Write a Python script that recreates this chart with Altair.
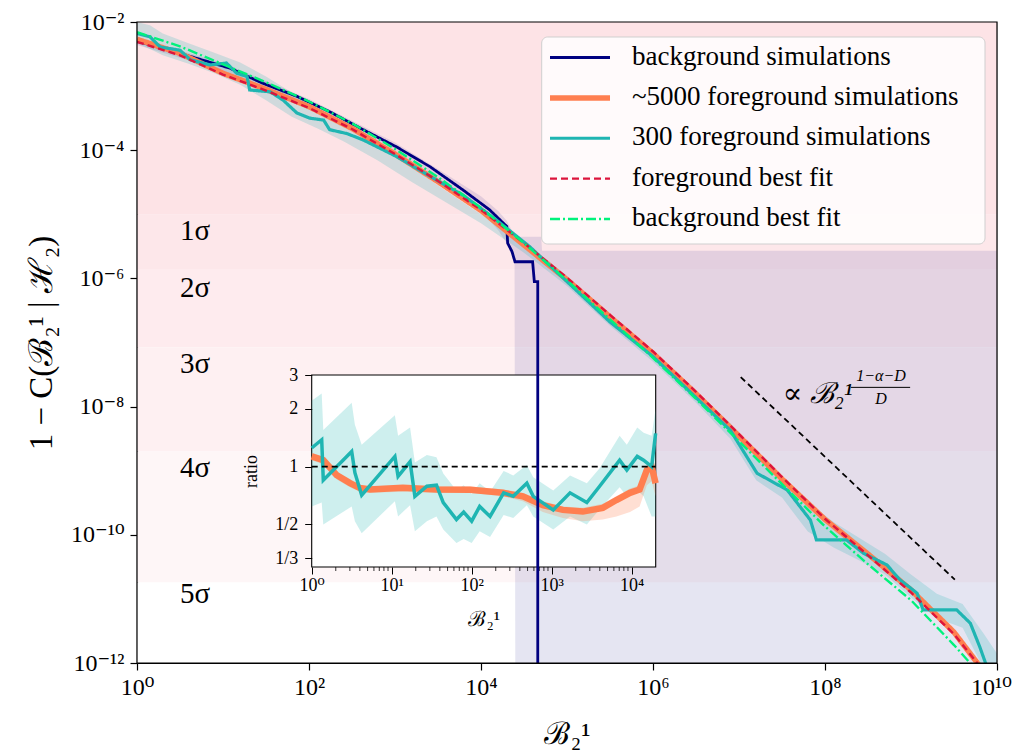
import altair as alt
import numpy as np
import pandas as pd

W, H = 860, 641
SERIF = "Liberation Serif, DejaVu Serif, serif"

# ---------------- legend / series styling ----------------
SERIES = ["background simulations", "~5000 foreground simulations",
          "300 foreground simulations", "foreground best fit", "background best fit"]
COLORS = ["#000080", "#ff7f50", "#1fb5b2", "#dc143c", "#00f27c"]
DASHES = [[1, 0], [1, 0], [1, 0], [7, 4], [10, 3, 2, 3]]
WIDTHS = [2.8, 5.5, 3.2, 2.4, 2.4]

# ---------------- main panel data (log10 values) ----------------
bg_lx = [0.0, 0.5, 1.08, 1.47, 1.86, 2.24, 2.63, 3.02, 3.41, 3.79, 4.10, 4.30, 4.31, 4.36, 4.395, 4.60, 4.62, 4.66, 4.66]
bg_ly = [-2.30, -2.49, -2.72, -2.96, -3.16, -3.40, -3.68, -3.95, -4.26, -4.62, -4.93, -5.19, -5.45, -5.58, -5.74, -5.74, -6.05, -6.05, -12.6]

fg_lx = [0, 0.5, 1, 1.5, 2, 2.5, 3, 3.5, 4, 4.5, 5, 5.5, 6, 6.5, 7, 7.5, 8, 8.5, 9, 9.5, 9.8]
fg_ly = [-2.27, -2.49, -2.80, -3.05, -3.32, -3.66, -4.06, -4.49, -4.94, -5.48, -6.02, -6.60, -7.17, -7.80, -8.46, -9.13, -9.76, -10.30, -10.86, -11.52, -12.05]

tl_lx = [0.0, 0.15, 0.27, 0.5, 0.62, 0.85, 1.04, 1.16, 1.28, 1.31, 1.55, 1.70, 1.86, 2.01, 2.17, 2.24, 2.44,
         2.63, 3.02, 3.41, 3.79, 4.18, 4.57, 5.0, 5.5, 6.0, 6.5, 6.9, 7.21, 7.56, 7.83, 7.90, 8.25, 8.45,
         8.72, 8.87, 9.07, 9.14, 9.53, 9.69, 9.80, 9.88]
tl_ly = [-2.18, -2.23, -2.39, -2.44, -2.59, -2.67, -2.64, -2.80, -2.85, -3.06, -3.09, -3.22, -3.42, -3.50,
         -3.53, -3.68, -3.74, -3.84, -4.10, -4.41, -4.70, -5.09, -5.51, -6.05, -6.68, -7.22, -7.86, -8.37,
         -9.04, -9.30, -9.77, -10.08, -10.08, -10.29, -10.47, -10.70, -10.91, -11.17, -11.17, -11.38, -11.75, -12.05]

ffit_lx = [0, 0.5, 1, 1.5, 2, 2.5, 3, 3.5, 4, 4.5, 5, 5.5, 6, 6.5, 7, 7.5, 8, 8.5, 9, 9.5, 9.8]
ffit_ly = [-2.31, -2.52, -2.82, -3.07, -3.34, -3.67, -4.06, -4.48, -4.93, -5.45, -5.99, -6.57, -7.14, -7.77,
           -8.43, -9.10, -9.75, -10.32, -10.90, -11.55, -12.05]

bfit_lx = [0, 0.5, 1, 1.5, 2, 2.5, 3, 3.5, 4, 4.5, 5, 5.5, 6, 6.5, 7, 7.5, 8, 8.5, 9, 9.5, 9.72]
bfit_ly = [-2.16, -2.38, -2.66, -2.94, -3.24, -3.58, -3.98, -4.42, -4.90, -5.45, -6.03, -6.64, -7.24, -7.88,
           -8.54, -9.21, -9.87, -10.46, -11.02, -11.72, -12.05]

# confidence bands (log10)
nb_lx = [0.0, 1.0, 2.0, 3.0, 3.6, 4.0, 4.2, 4.3, 4.39, 4.40, 4.70, 4.71, 10.0]
nb_hi = [-2.25, -2.64, -3.20, -3.88, -4.38, -4.72, -4.95, -5.10, -5.33, -5.35, -5.35, -5.57, -5.57]
nb_lo = [-2.36, -2.76, -3.36, -4.02, -4.58, -4.95, -5.25, -5.45, -5.75, -13.0, -13.0, -13.0, -13.0]

tb_lx = [0.0, 0.15, 0.3, 0.6, 0.9, 1.2, 1.5, 1.8, 2.1, 2.4, 2.8, 3.2, 3.6, 4.0, 4.5, 5.0, 5.5, 6.0, 6.5,
         6.9, 7.2, 7.5, 7.8, 8.1, 8.4, 8.7, 9.0, 9.3, 9.6, 9.85, 10.0]
tb_hi = [-2.00, -2.05, -2.18, -2.33, -2.48, -2.63, -2.85, -3.10, -3.36, -3.60, -3.92, -4.27, -4.64, -5.00,
         -5.42, -5.96, -6.58, -7.14, -7.76, -8.26, -8.70, -9.10, -9.50, -9.80, -10.05, -10.30, -10.62,
         -10.92, -11.08, -11.55, -11.85]
tb_lo = [-2.33, -2.42, -2.52, -2.65, -2.80, -2.98, -3.22, -3.48, -3.66, -3.86, -4.16, -4.50, -4.82, -5.14,
         -5.60, -6.12, -6.74, -7.30, -7.94, -8.50, -9.15, -9.42, -9.95, -10.20, -10.40, -10.62, -10.98,
         -11.30, -11.45, -12.10, -12.40]

# sigma bands
SIGMA_EDGES = [1e-2, 9.8e-6, 1.4e-6, 8.4e-8, 2.0e-9, 1.8e-11, 1e-12]
SIGMA_FILLS = ["#fde3e6", "#fde7ea", "#feebee", "#fef0f2", "#fef6f7", "#ffffff"]
SIGMA_LABELS = ["1σ", "2σ", "3σ", "4σ", "5σ"]
SIGMA_LABEL_LY = [-5.40, -6.29, -7.48, -9.10, -11.06]
SIGMA_LABEL_LX = 0.5

# power-law guide line and its label
ref_lx = [7.02, 9.51]
ref_ly = [-7.54, -10.70]
ann_main_lx, ann_main_ly, ann_main_txt = [7.51], [-7.80], ["∝ ℬ₂¹"]
ann_frac_lx, ann_frac_ly, ann_frac_txt = [8.651, 8.651], [-7.53, -7.875], ["1−α−D", "D"]
frac_lx = [8.30, 8.99]
frac_ly = [-7.70, -7.70]

# ---------------- inset data ----------------
io_lx = [0, 0.145, 0.31, 0.48, 0.60, 0.73, 1.14, 1.56, 1.98, 2.39, 2.64, 2.89, 3.14, 3.39, 3.64, 3.81, 3.98, 4.10, 4.19, 4.25, 4.30]
io_r = [1.13, 1.08, 0.905, 0.82, 0.775, 0.76, 0.775, 0.76, 0.757, 0.73, 0.70, 0.63, 0.595, 0.583, 0.61, 0.67, 0.73, 0.76, 0.96, 1.0, 0.82]
io_hi = [1.18, 1.12, 0.94, 0.85, 0.80, 0.79, 0.80, 0.79, 0.79, 0.76, 0.73, 0.66, 0.62, 0.61, 0.64, 0.70, 0.77, 0.80, 1.01, 1.06, 0.88]
io_lo = [1.08, 1.03, 0.86, 0.78, 0.74, 0.73, 0.74, 0.73, 0.73, 0.70, 0.66, 0.58, 0.54, 0.52, 0.53, 0.55, 0.58, 0.62, 0.80, 0.84, 0.70]

it_lx = [0, 0.125, 0.145, 0.50, 0.54, 0.625, 1.04, 1.08, 1.23, 1.29, 1.44, 1.56, 1.645, 1.81, 1.90, 2.0,
         2.10, 2.23, 2.40, 2.52, 2.69, 2.77, 3.02, 3.23, 3.44, 3.60, 3.85, 3.94, 4.07, 4.15, 4.25, 4.30]
it_r = [1.25, 1.38, 0.85, 1.2, 0.93, 0.71, 1.13, 0.89, 1.06, 0.70, 0.79, 0.80, 0.65, 0.53, 0.58, 0.52,
        0.62, 0.55, 0.73, 0.70, 0.82, 0.70, 0.595, 0.73, 0.65, 0.79, 1.08, 0.96, 1.13, 1.08, 1.0, 1.49]
it_hi = [2.2, 2.4, 1.55, 2.15, 1.65, 1.3, 1.85, 1.45, 1.6, 1.05, 1.15, 1.12, 0.92, 0.75, 0.8, 0.72,
         0.82, 0.74, 0.95, 0.9, 1.02, 0.88, 0.75, 0.9, 0.82, 0.98, 1.45, 1.3, 1.6, 1.5, 1.45, 2.0]
it_lo = [0.62, 0.65, 0.5, 0.62, 0.52, 0.45, 0.66, 0.55, 0.63, 0.46, 0.52, 0.55, 0.47, 0.40, 0.42, 0.40,
         0.46, 0.43, 0.56, 0.54, 0.63, 0.55, 0.47, 0.55, 0.50, 0.60, 0.78, 0.70, 0.75, 0.70, 0.55, 0.55]

INSET_MAJOR = [1, 10, 100, 1000, 10000]
INSET_MINOR = [m * d for d in [1, 10, 100, 1000] for m in range(2, 10)]
INSET_YTICKS = [1 / 3, 1 / 2, 1, 2, 3]


def p10(a):
    return 10.0 ** np.asarray(a, dtype=float)


SUP = str.maketrans("-0123456789", "⁻⁰¹²³⁴⁵⁶⁷⁸⁹")


def pow_label_expr(exps):
    e = "round(log(datum.value)/LN10)"
    expr = "''"
    for k in exps:
        expr = f"({e} == {k}) ? '10{str(k).translate(SUP)}' : " + expr
    return expr


# ---------------- scales ----------------
xs = alt.Scale(type="log", domain=[1, 1e10], nice=False)
ys = alt.Scale(type="log", domain=[1e-12, 1e-2], nice=False)
INS_X0, INS_X1, INS_Y0, INS_Y1 = 174.7, 518.7, 545, 353
ixs = alt.Scale(type="log", domain=[1, 2e4], nice=False, range=[INS_X0, INS_X1])
iys = alt.Scale(type="log", domain=[0.3, 3], nice=False, range=[INS_Y0, INS_Y1])

axis_common = dict(labelFont=SERIF, labelColor="black", tickColor="black", domainColor="black",
                   grid=False, titleFont=SERIF, titleFontWeight="normal", titleColor="black",
                   labelOverlap=False, labelFlush=False)

x_axis = alt.Axis(orient="bottom", values=[1, 1e2, 1e4, 1e6, 1e8, 1e10],
                  labelExpr=pow_label_expr([0, 2, 4, 6, 8, 10]),
                  labelOffset={"condition": {"test": "datum.value > 1e9", "value": -6}, "value": 0},
                  labelFontSize=24, tickSize=7, tickWidth=1.2, domainWidth=1.2, labelPadding=5,
                  titleFontSize=31, titlePadding=20, **axis_common)
y_axis = alt.Axis(orient="left", values=[1e-2, 1e-4, 1e-6, 1e-8, 1e-10, 1e-12],
                  labelExpr=pow_label_expr([-2, -4, -6, -8, -10, -12]),
                  labelFontSize=24, tickSize=7, tickWidth=1.2, domainWidth=1.2, labelPadding=6,
                  titleFontSize=33, titlePadding=12, **axis_common)


def X(field, scale=xs, **kw):
    return alt.X(field, scale=scale, axis=None, **kw)


def Y(field, scale=ys, **kw):
    return alt.Y(field, scale=scale, axis=None, **kw)


# ---------------- background (bands) ----------------
bands_df = pd.DataFrame({"x0": 1.0, "x1": 1e10, "y0": SIGMA_EDGES[1:], "y1": SIGMA_EDGES[:-1],
                         "fill": SIGMA_FILLS})
bands = alt.Chart(bands_df).mark_rect().encode(
    x=alt.X("x0:Q", scale=xs, axis=x_axis, title="ℬ₂¹"),
    x2="x1:Q",
    y=alt.Y("y0:Q", scale=ys, axis=y_axis, title="1 − C(ℬ₂¹ | ℋ₂)"),
    y2="y1:Q",
    fill=alt.Fill("fill:N", scale=None),
)

nb_df = pd.DataFrame({"x": p10(nb_lx), "hi": p10(nb_hi), "lo": p10(nb_lo)})
navy_band = alt.Chart(nb_df).mark_area(color=COLORS[0], opacity=0.1, clip=True).encode(
    x=X("x:Q"), y=Y("lo:Q"), y2="hi:Q")

tb_df = pd.DataFrame({"x": p10(tb_lx), "hi": p10(tb_hi), "lo": p10(tb_lo)})
teal_band = alt.Chart(tb_df).mark_area(color=COLORS[2], opacity=0.2, clip=True).encode(
    x=X("x:Q"), y=Y("lo:Q"), y2="hi:Q")

sig_df = pd.DataFrame({"x": p10([SIGMA_LABEL_LX] * 5), "y": p10(SIGMA_LABEL_LY), "t": SIGMA_LABELS})
sig_text = alt.Chart(sig_df).mark_text(font=SERIF, fontSize=29, align="left", baseline="alphabetic",
                                       color="black").encode(x=X("x:Q"), y=Y("y:Q"), text="t:N")

# ---------------- inset ----------------
ix_axis = alt.Axis(orient="bottom", offset=-(H - INS_Y0), values=INSET_MAJOR, zindex=2,
                   labelExpr=pow_label_expr([0, 1, 2, 3, 4]), labelFontSize=18, tickSize=7,
                   labelPadding=2, domain=False, titleFontSize=21, titlePadding=14, **axis_common)
iy_axis = alt.Axis(orient="left", offset=-INS_X0, values=INSET_YTICKS, zindex=2,
                   labelExpr="datum.value < 0.4 ? '1/3' : datum.value < 0.7 ? '1/2' : datum.value < 1.5 ? '1' : datum.value < 2.5 ? '2' : '3'",
                   labelFontSize=18, tickSize=7, labelPadding=7, domain=False, titleFontSize=18,
                   titlePadding=14, **axis_common)

ins_box = alt.Chart(pd.DataFrame({"x0": [1.0], "x1": [2e4], "y0": [0.3], "y1": [3.0]})).mark_rect(
    fill="white", stroke="black", strokeWidth=1.1).encode(
    x=alt.X("x0:Q", scale=ixs, axis=ix_axis, title="ℬ₂¹"), x2="x1:Q",
    y=alt.Y("y0:Q", scale=iys, axis=iy_axis, title="ratio"), y2="y1:Q")

minor = alt.Chart(pd.DataFrame({"x": INSET_MINOR})).mark_rule(color="black", strokeWidth=0.8).encode(
    x=X("x:Q", ixs), y=alt.value(INS_Y0), y2=alt.value(INS_Y0 + 4))

it_df = pd.DataFrame({"x": p10(it_lx), "r": it_r, "hi": it_hi, "lo": it_lo, "i": range(len(it_lx))})
io_df = pd.DataFrame({"x": p10(io_lx), "r": io_r, "hi": io_hi, "lo": io_lo, "i": range(len(io_lx))})

it_band = alt.Chart(it_df).mark_area(color=COLORS[2], opacity=0.22).encode(
    x=X("x:Q", ixs), y=Y("lo:Q", iys), y2="hi:Q")
io_band = alt.Chart(io_df).mark_area(color=COLORS[1], opacity=0.25).encode(
    x=X("x:Q", ixs), y=Y("lo:Q", iys), y2="hi:Q")
io_line = alt.Chart(io_df).mark_line(color=COLORS[1], strokeWidth=6.5).encode(
    x=X("x:Q", ixs), y=Y("r:Q", iys), order="i:Q")
it_line = alt.Chart(it_df).mark_line(color=COLORS[2], strokeWidth=3.5).encode(
    x=X("x:Q", ixs), y=Y("r:Q", iys), order="i:Q")
one_line = alt.Chart(pd.DataFrame({"x0": [1.0], "x1": [2e4], "y": [1.0]})).mark_rule(
    color="black", strokeWidth=1.6, strokeDash=[6, 4]).encode(
    x=X("x0:Q", ixs), x2="x1:Q", y=Y("y:Q", iys))

# ---------------- main lines ----------------
cscale = alt.Scale(domain=SERIES, range=COLORS)
dscale = alt.Scale(domain=SERIES, range=DASHES)
wscale = alt.Scale(domain=SERIES, range=WIDTHS, type="ordinal")


def series_line(lx, ly, name):
    df = pd.DataFrame({"x": p10(lx), "y": p10(ly), "series": name, "i": range(len(lx))})
    return alt.Chart(df).mark_line(clip=True).encode(
        x=X("x:Q"), y=Y("y:Q"),
        color=alt.Color("series:N", scale=cscale, legend=None),
        strokeDash=alt.StrokeDash("series:N", scale=dscale, legend=None),
        strokeWidth=alt.StrokeWidth("series:N", scale=wscale, legend=None),
        order="i:Q",
    )


l_bg = series_line(bg_lx, bg_ly, SERIES[0])
l_fg = series_line(fg_lx, fg_ly, SERIES[1])
l_tl = series_line(tl_lx, tl_ly, SERIES[2])
l_ff = series_line(ffit_lx, ffit_ly, SERIES[3])
l_bf = series_line(bfit_lx, bfit_ly, SERIES[4])

ref = alt.Chart(pd.DataFrame({"x": p10(ref_lx), "y": p10(ref_ly)})).mark_line(
    color="black", strokeWidth=1.8, strokeDash=[6, 4]).encode(x=X("x:Q"), y=Y("y:Q"))
ann_main = alt.Chart(pd.DataFrame({"x": p10(ann_main_lx), "y": p10(ann_main_ly), "t": ann_main_txt})).mark_text(
    font=SERIF, fontSize=29, baseline="middle", align="left", color="black", fontStyle="italic").encode(
    x=X("x:Q"), y=Y("y:Q"), text="t:N")
ann_frac = alt.Chart(pd.DataFrame({"x": p10(ann_frac_lx), "y": p10(ann_frac_ly), "t": ann_frac_txt})).mark_text(
    font=SERIF, fontSize=16, baseline="middle", align="center", color="black", fontStyle="italic").encode(
    x=X("x:Q"), y=Y("y:Q"), text="t:N")
frac = alt.Chart(pd.DataFrame({"x": p10(frac_lx), "y": p10(frac_ly)})).mark_line(
    color="black", strokeWidth=1).encode(x=X("x:Q"), y=Y("y:Q"))

frame = alt.Chart(pd.DataFrame({"a": [0]})).mark_rect(fillOpacity=0, stroke="black", strokeWidth=1.2).encode(
    x=alt.value(0), x2=alt.value(W), y=alt.value(0), y2=alt.value(H))

# ---------------- legend (drawn with a point scale on the series names) ----------------
LEG_BOX = dict(x=404.7, x2=848, y=15, y2=222)
LEG_ROWS = [35.5, 197]
legscale = alt.Scale(domain=SERIES, range=LEG_ROWS, type="point", padding=0)
leg_df = pd.DataFrame({"series": SERIES})
leg_box = alt.Chart(pd.DataFrame({"a": [0]})).mark_rect(
    fill="white", fillOpacity=0.82, stroke="#cfcfcf", strokeWidth=1, cornerRadius=6).encode(
    x=alt.value(LEG_BOX["x"]), x2=alt.value(LEG_BOX["x2"]),
    y=alt.value(LEG_BOX["y"]), y2=alt.value(LEG_BOX["y2"]))
leg_lines = alt.Chart(leg_df).mark_rule().encode(
    x=alt.value(413), x2=alt.value(473),
    y=alt.Y("series:N", scale=legscale, axis=None),
    color=alt.Color("series:N", scale=cscale, legend=None),
    strokeDash=alt.StrokeDash("series:N", scale=dscale, legend=None),
    strokeWidth=alt.StrokeWidth("series:N", scale=wscale, legend=None),
)
leg_text = alt.Chart(leg_df).mark_text(font=SERIF, fontSize=27, align="left", baseline="middle",
                                       color="black", dy=-1).encode(
    x=alt.value(495), y=alt.Y("series:N", scale=legscale, axis=None), text="series:N")

layers = [bands, navy_band, teal_band, sig_text,
          ins_box, minor, it_band, io_band, io_line, it_line, one_line,
          l_bg, l_fg, l_tl, l_ff, l_bf, ref, ann_main, ann_frac, frac, frame,
          leg_box, leg_lines, leg_text]

chart = alt.layer(*layers).resolve_scale(
    x="independent", y="independent"
).properties(
    width=W, height=H,
    autosize=alt.AutoSizeParams(type="none"),
    padding={"left": 129, "top": 14, "right": 18, "bottom": 92},
).configure_view(stroke=None).configure(background="white")

chart.save("out.html", embed_options={"renderer": "svg", "actions": False})
